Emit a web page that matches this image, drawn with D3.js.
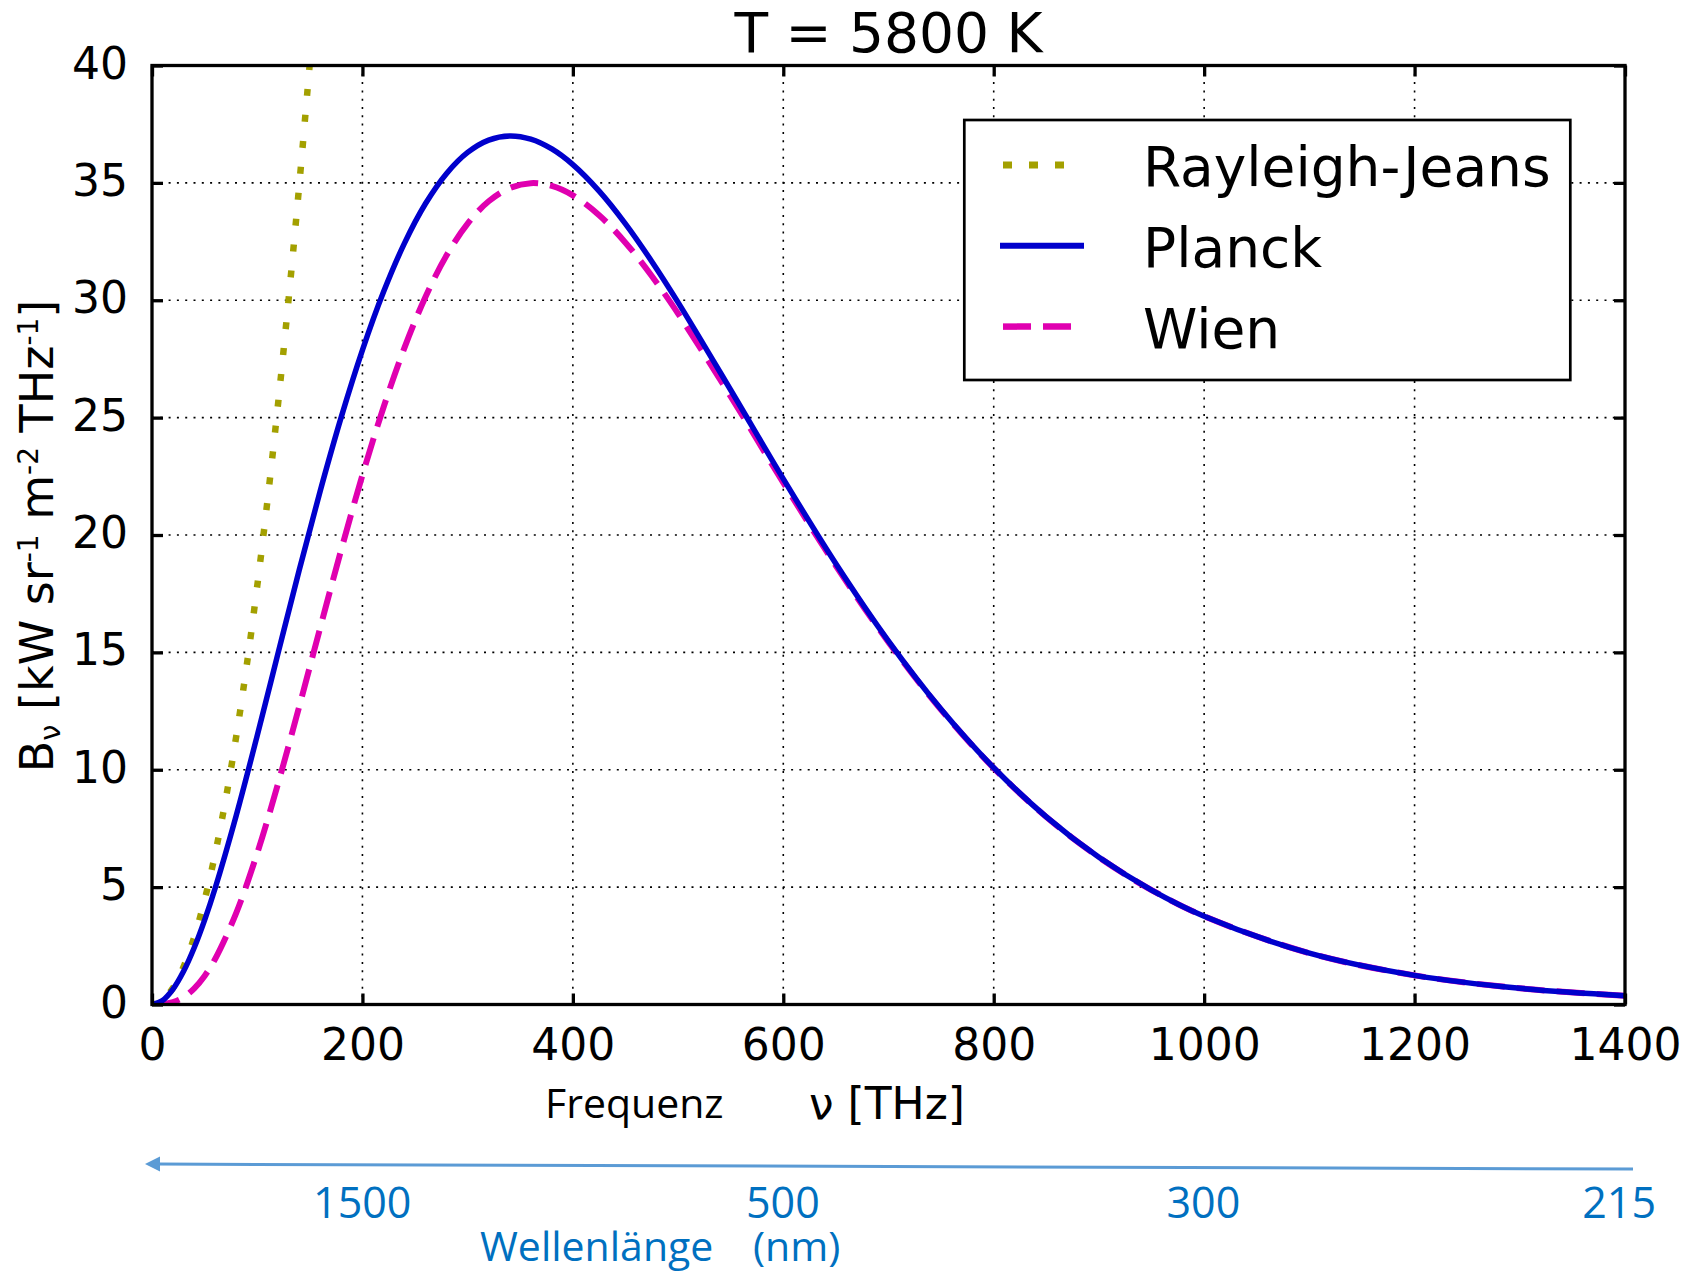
<!DOCTYPE html>
<html>
<head>
<meta charset="utf-8">
<script src="https://cdn.jsdelivr.net/npm/d3@7/dist/d3.min.js"></script>
<style>
  body { margin: 0; background: #fff; }
  svg { display: block; }
  text { font-family: "DejaVu Sans", sans-serif; fill: #000; }
  .office { font-family: "Open Sans", sans-serif; }
  .wave { fill: #0070c0; }
</style>
</head>
<body>
<svg id="chart" width="1698" height="1274"></svg>
<script>
// frequency grid [THz] and spectral radiance [kW sr^-1 m^-2 THz^-1] at T = 5800 K
var freq = [0, 10, 20, 30, 40, 50, 60, 80, 100, 120, 140, 160, 180, 200, 220, 240, 260, 280, 300,
    320, 340, 360, 380, 400, 425, 450, 475, 500, 550, 600, 650, 700, 750, 800, 850, 900, 950,
    1000, 1100, 1200, 1300, 1400];
var planck = [0, 0.171, 0.656, 1.413, 2.406, 3.597, 4.954, 8.045, 11.454, 14.997, 18.520, 21.899,
    25.041, 27.875, 30.347, 32.434, 34.119, 35.403, 36.298, 36.823, 37.000, 36.863, 36.444, 35.777,
    34.649, 33.255, 31.654, 29.909, 26.178, 22.390, 18.777, 15.481, 12.577, 10.085, 7.994, 6.272,
    4.876, 3.760, 2.187, 1.241, 0.690, 0.377];
var wien = [0, 0.014, 0.100, 0.311, 0.678, 1.219, 1.939, 3.895, 6.447, 9.441, 12.705, 16.073,
    19.395, 22.548, 25.432, 27.982, 30.150, 31.913, 33.265, 34.216, 34.779, 34.989, 34.873, 34.470,
    33.620, 32.453, 31.033, 29.432, 25.902, 22.233, 18.690, 15.434, 12.551, 10.072, 7.987, 6.269,
    4.875, 3.759, 2.187, 1.241, 0.690, 0.377];
var rjFreq = [0, 10, 20, 30, 40, 50, 60, 70, 80, 90, 100, 110, 120, 130, 140, 150];
var rayleighJeans = [0, 0.178, 0.713, 1.604, 2.852, 4.455, 6.416, 8.733, 11.406, 14.436, 17.822,
    21.565, 25.664, 30.120, 34.932, 40.10];

var xTicks = [0, 200, 400, 600, 800, 1000, 1200, 1400];
var yTicks = [0, 5, 10, 15, 20, 25, 30, 35, 40];
var waveLabels = [1500, 500, 300, 215];   // nm
var legendNames = ["Rayleigh-Jeans", "Planck", "Wien"];

var svg = d3.select("#chart");
var pLeft = 152, pRight = 1625, pTop = 65.5, pBottom = 1004.5;

var x = d3.scaleLinear().domain([0, 1400]).range([pLeft, pRight]);
var y = d3.scaleLinear().domain([0, 40]).range([pBottom, pTop]);

svg.append("defs").append("clipPath").attr("id", "plotclip")
    .append("rect")
    .attr("x", pLeft).attr("y", pTop)
    .attr("width", pRight - pLeft).attr("height", pBottom - pTop);

// grid
var grid = svg.append("g").attr("stroke", "#000").attr("stroke-width", 1.6)
    .attr("stroke-dasharray", "2,6.3");
grid.selectAll(".gx").data(xTicks.slice(1, -1)).enter().append("line")
    .attr("x1", d => x(d)).attr("x2", d => x(d))
    .attr("y1", pTop).attr("y2", pBottom);
grid.selectAll(".gy").data(yTicks.slice(1, -1)).enter().append("line")
    .attr("x1", pLeft).attr("x2", pRight)
    .attr("y1", d => y(d)).attr("y2", d => y(d));

// curves (RJ is drawn from the top edge down so the dot pattern starts at the frame)
var series = [
    { name: "Rayleigh-Jeans", xs: rjFreq.slice().reverse(), ys: rayleighJeans.slice().reverse(),
      color: "#a3a000", width: 6.5, dash: "7,19" },
    { name: "Wien", xs: freq, ys: wien, color: "#e000b0", width: 6, dash: "28,12" },
    { name: "Planck", xs: freq, ys: planck, color: "#0000cc", width: 5.5, dash: null }
];
var line = d3.line()
    .x(d => x(d[0]))
    .y(d => y(d[1]))
    .curve(d3.curveCatmullRom);

var curves = svg.append("g").attr("clip-path", "url(#plotclip)");
series.forEach(function(s){
    curves.append("path")
        .datum(d3.zip(s.xs, s.ys))
        .attr("d", line)
        .attr("fill", "none")
        .attr("stroke", s.color)
        .attr("stroke-width", s.width)
        .attr("stroke-dasharray", s.dash);
});

// axes (ticks pointing inward on all four sides)
function styleAxis(g, withLabels){
    g.select(".domain").remove();
    g.selectAll(".tick line").attr("stroke", "#000").attr("stroke-width", 3.3);
    if(!withLabels) g.selectAll(".tick text").remove();
}
var tickLen = 11;
var xb = svg.append("g").attr("transform", `translate(0,${pBottom})`)
    .call(d3.axisBottom(x).tickValues(xTicks).tickSize(-tickLen).tickFormat(d3.format("d")));
styleAxis(xb, true);
xb.selectAll(".tick text").attr("y", 55.5).attr("dy", null)
    .style("font-size", "44px").attr("fill", "#000");

var yl = svg.append("g").attr("transform", `translate(${pLeft},0)`)
    .call(d3.axisLeft(y).tickValues(yTicks).tickSize(-tickLen).tickFormat(d3.format("d")));
styleAxis(yl, true);
yl.selectAll(".tick text").attr("x", -24).attr("dy", 12.5)
    .style("font-size", "44px").attr("fill", "#000");

var xt = svg.append("g").attr("transform", `translate(0,${pTop})`)
    .call(d3.axisTop(x).tickValues(xTicks).tickSize(-tickLen));
styleAxis(xt, false);
var yr = svg.append("g").attr("transform", `translate(${pRight},0)`)
    .call(d3.axisRight(y).tickValues(yTicks).tickSize(-tickLen));
styleAxis(yr, false);

svg.append("rect")
    .attr("x", pLeft).attr("y", pTop)
    .attr("width", pRight - pLeft).attr("height", pBottom - pTop)
    .attr("fill", "none").attr("stroke", "#000").attr("stroke-width", 3.3);

// title
svg.append("text")
    .attr("x", (pLeft + pRight) / 2).attr("y", 51.7)
    .attr("text-anchor", "middle")
    .style("font-size", "55px")
    .text("T = 5800 K");

// legend
var legend = svg.append("g");
legend.append("rect")
    .attr("x", 964.3).attr("y", 120)
    .attr("width", 606).attr("height", 260)
    .attr("fill", "#fff").attr("stroke", "#000").attr("stroke-width", 2.7);
legendNames.forEach(function(name, i){
    var s = series.find(d => d.name === name);
    var ly = 165 + i * 80.8;
    legend.append("line")
        .attr("x1", s.dash ? 1003 : 1000).attr("x2", s.dash ? 1080 : 1084)
        .attr("y1", ly).attr("y2", ly)
        .attr("stroke", s.color)
        .attr("stroke-width", s.width + 0.5)
        .attr("stroke-dasharray", s.dash === "7,19" ? "9,17" : s.dash);
    legend.append("text")
        .attr("x", 1143).attr("y", ly + 21)
        .style("font-size", "55px")
        .text(name);
});

// y label
var ylab = svg.append("text")
    .attr("transform", "translate(53,536) rotate(-90)")
    .attr("text-anchor", "middle")
    .style("font-size", "46px");
ylab.append("tspan").text("B");
ylab.append("tspan").attr("dy", 7).style("font-size", "29px").text("ν");
ylab.append("tspan").attr("dy", -7).text(" [kW sr");
ylab.append("tspan").attr("dy", -15).style("font-size", "28px").text("-1");
ylab.append("tspan").attr("dy", 15).text(" m");
ylab.append("tspan").attr("dy", -15).style("font-size", "28px").text("-2");
ylab.append("tspan").attr("dy", 15).text(" THz");
ylab.append("tspan").attr("dy", -15).style("font-size", "28px").text("-1");
ylab.append("tspan").attr("dy", 15).text("]");

// x label
svg.append("text").attr("class", "office")
    .attr("x", 545).attr("y", 1118)
    .style("font-size", "41px")
    .text("Frequenz");
svg.append("text")
    .attr("x", 809).attr("y", 1119)
    .style("font-size", "44px")
    .text("ν [THz]");

// wavelength arrow and labels
var arrow = svg.append("g").attr("fill", "#5b9bd5").attr("stroke", "#5b9bd5");
arrow.append("line")
    .attr("x1", 1633).attr("y1", 1169)
    .attr("x2", 158).attr("y2", 1164.1)
    .attr("stroke-width", 3);
arrow.append("path")
    .attr("d", "M145,1164 L160,1156.5 L160,1171.5 Z")
    .attr("stroke", "none");

svg.selectAll(".wl").data(waveLabels).enter().append("text")
    .attr("class", "office wave")
    .attr("x", d => x(299792.458 / d))
    .attr("y", 1218)
    .attr("text-anchor", "middle")
    .style("font-size", "43px")
    .text(d => d);

svg.append("text").attr("class", "office wave")
    .attr("x", 480).attr("y", 1261)
    .style("font-size", "41px")
    .text("Wellenlänge");
svg.append("text").attr("class", "office wave")
    .attr("x", 753).attr("y", 1261)
    .style("font-size", "41px")
    .text("(nm)");
</script>
</body>
</html>
